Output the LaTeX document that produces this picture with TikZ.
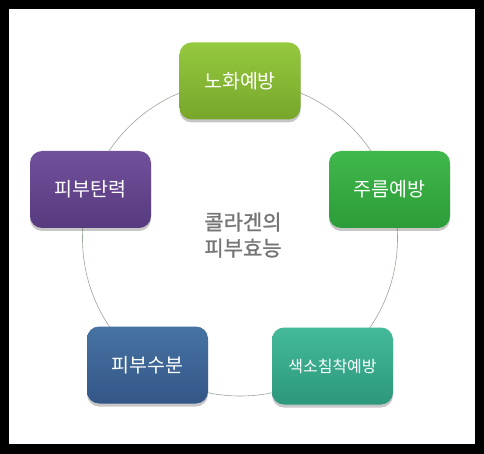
\documentclass[tikz,border=0pt]{standalone}
\usepackage{fontspec}
\newfontfamily\kr{Noto Sans CJK KR}
\newfontfamily\krb{Noto Sans CJK KR}[FakeBold=1.2]
\usetikzlibrary{shadows}
\definecolor{gA1}{HTML}{95C93F}\definecolor{gA2}{HTML}{77A62A}
\definecolor{gB1}{HTML}{40B84B}\definecolor{gB2}{HTML}{2C9C38}
\definecolor{pu1}{HTML}{71509C}\definecolor{pu2}{HTML}{573A7E}
\definecolor{bl1}{HTML}{4673A3}\definecolor{bl2}{HTML}{345687}
\definecolor{te1}{HTML}{43BA9A}\definecolor{te2}{HTML}{2D977B}
\definecolor{ringc}{HTML}{9AA89A}
\definecolor{centc}{HTML}{757575}
\begin{document}
\begin{tikzpicture}[x=1pt,y=-1pt,
  card/.style={rounded corners=12pt,minimum width=121pt,minimum height=77pt,
    text=white,font=\kr\fontsize{19.5}{22}\selectfont,inner sep=0pt,
    drop shadow={shadow xshift=0pt,shadow yshift=-3pt,opacity=0.22,fill=black}},
  smalltext/.style={font=\kr\fontsize{16}{19}\selectfont},
  ring/.style={draw=ringc,line width=0.6pt}]
\useasboundingbox (0,0) rectangle (484,454);
\fill[black] (0,0) rectangle (484,454);
\fill[white] (9,9) rectangle (475,444);
\node[circle,minimum size=315pt,inner sep=0pt] (ring) at (240,238.5) {};
\draw[ring] (ring.center) circle[radius=157.5pt];
\node[card,top color=gA1,bottom color=gA2] (n1) at (240,81) {노화예방};
\node[card,top color=gB1,bottom color=gB2] (n2) at (389.5,189.5) {주름예방};
\node[card,smalltext,top color=te1,bottom color=te2] (n3) at (332.5,366) {색소침착예방};
\node[card,top color=bl1,bottom color=bl2] (n4) at (147.5,365) {피부수분};
\node[card,top color=pu1,bottom color=pu2] (n5) at (90.5,189.5) {피부탄력};
\node[text=centc,font=\krb\fontsize{21}{26}\selectfont,align=left,inner sep=0pt] (c) at (243,235) {콜라겐의\\피부효능};
\end{tikzpicture}
\end{document}
